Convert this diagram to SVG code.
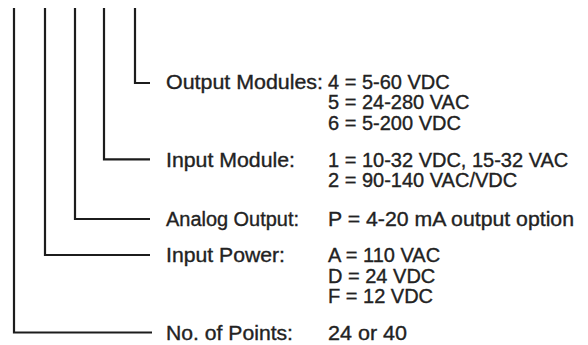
<svg xmlns="http://www.w3.org/2000/svg" width="588" height="345" viewBox="0 0 588 345">
<style>
.bg{fill:#ffffff}
.ln{fill:none;stroke:#1c1c1c;stroke-width:2.2;stroke-linejoin:miter;stroke-linecap:butt}
.t{font-family:"Liberation Sans",Arial,Helvetica,sans-serif;font-size:20px;fill:#222222;stroke:#222222;stroke-width:0.35}
</style>
<rect class="bg" x="0" y="0" width="588" height="345"/>
<g id="connectors">
<path class="ln" d="M14,8 V332.5 H152"/>
<path class="ln" d="M45,8 V255 H150"/>
<path class="ln" d="M75,8 V219 H150"/>
<path class="ln" d="M104,8 V159.3 H150"/>
<path class="ln" d="M135,8 V83 H150"/>
</g>
<g id="output-modules">
<text class="t" x="166" y="88.5" textLength="157" lengthAdjust="spacingAndGlyphs">Output Modules:</text>
<text class="t" x="328" y="88.5">4 = 5-60 VDC</text>
<text class="t" x="328" y="109">5 = 24-280 VAC</text>
<text class="t" x="328" y="129.5">6 = 5-200 VDC</text>
</g>
<g id="input-module">
<text class="t" x="166" y="166.5" textLength="129" lengthAdjust="spacingAndGlyphs">Input Module:</text>
<text class="t" x="328" y="166.5">1 = 10-32 VDC, 15-32 VAC</text>
<text class="t" x="328" y="187">2 = 90-140 VAC/VDC</text>
</g>
<g id="analog-output">
<text class="t" x="166" y="225.5" textLength="133" lengthAdjust="spacingAndGlyphs">Analog Output:</text>
<text class="t" x="328" y="225.5" textLength="246" lengthAdjust="spacingAndGlyphs">P = 4-20 mA output option</text>
</g>
<g id="input-power">
<text class="t" x="166" y="262" textLength="119" lengthAdjust="spacingAndGlyphs">Input Power:</text>
<text class="t" x="328" y="262">A = 110 VAC</text>
<text class="t" x="328" y="282.5">D = 24 VDC</text>
<text class="t" x="328" y="303">F = 12 VDC</text>
</g>
<g id="no-of-points">
<text class="t" x="166" y="339.5" textLength="127" lengthAdjust="spacingAndGlyphs">No. of Points:</text>
<text class="t" x="328" y="339.5" textLength="79" lengthAdjust="spacingAndGlyphs">24 or 40</text>
</g>
</svg>
